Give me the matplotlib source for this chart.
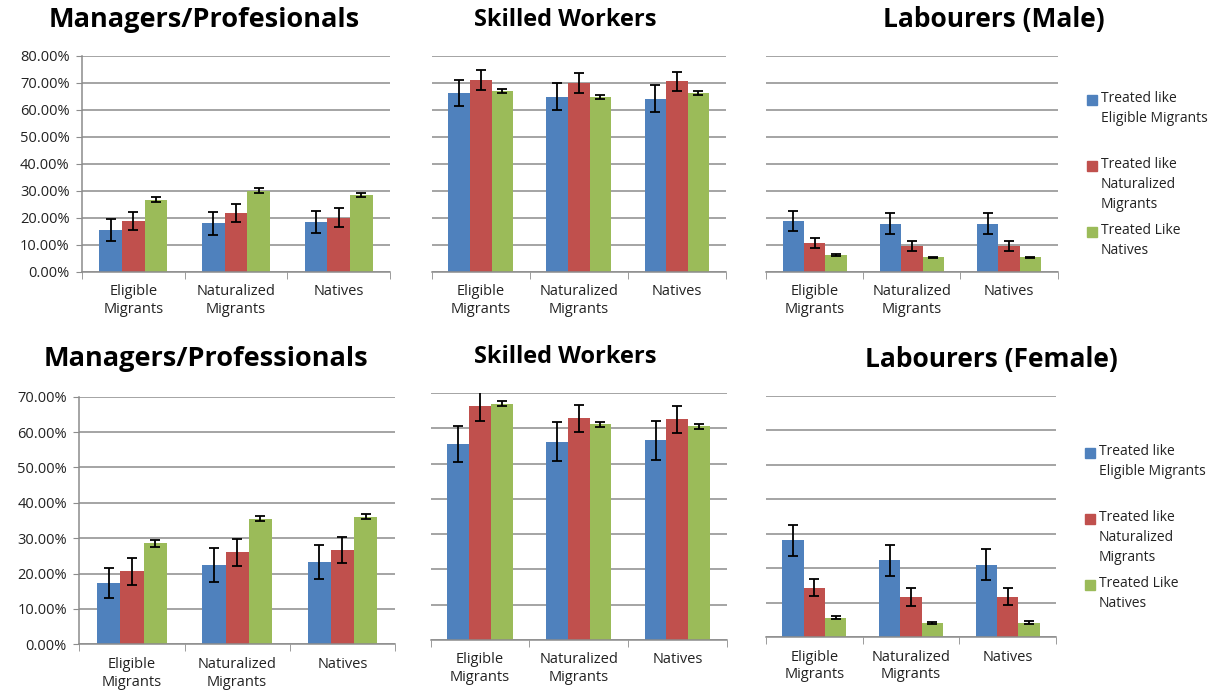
import matplotlib
matplotlib.use("Agg")
import matplotlib.pyplot as plt
from matplotlib.patches import Rectangle
import numpy as np

plt.rcParams['font.family'] = ['Open Sans', 'DejaVu Sans']

categories = ["Eligible\nMigrants", "Naturalized\nMigrants", "Natives"]
series = ["Treated like\nEligible Migrants", "Treated like\nNaturalized\nMigrants",
          "Treated Like\nNatives"]
colors = ["#4F81BD", "#C0504D", "#9BBB59"]

# values in %, one row per series (eligible-like, naturalized-like, natives-like)
mgr_top = [[15.4, 17.9, 18.4], [18.8, 21.6, 20.0], [26.7, 30.0, 28.4]]
mgr_top_err = [[4.0, 4.3, 4.2], [3.3, 3.3, 3.4], [0.9, 0.8, 0.8]]
sk_top = [[66.1, 64.8, 64.0], [71.0, 70.0, 70.5], [67.0, 64.8, 66.2]]
sk_top_err = [[4.8, 5.0, 5.0], [3.8, 3.7, 3.6], [0.8, 0.8, 0.8]]
lab_male = [[18.9, 17.7, 17.7], [10.7, 9.5, 9.5], [6.2, 5.3, 5.3]]
lab_male_err = [[3.7, 3.9, 3.9], [1.8, 1.8, 2.0], [0.4, 0.3, 0.3]]

mgr_bot = [[17.3, 22.3, 23.3], [20.6, 26.0, 26.6], [28.6, 35.5, 36.1]]
mgr_bot_err = [[4.3, 4.8, 4.9], [3.9, 3.9, 3.7], [1.0, 0.7, 0.7]]
sk_bot = [[55.6, 56.2, 56.6], [66.2, 62.8, 62.5], [67.0, 61.1, 60.6]]
sk_bot_err = [[5.1, 5.5, 5.5], [4.1, 3.9, 3.8], [0.8, 0.8, 0.7]]
lab_female = [[28.0, 22.2, 21.0], [14.3, 11.6, 11.7], [5.6, 4.1, 4.2]]
lab_female_err = [[4.6, 4.6, 4.6], [2.5, 2.5, 2.5], [0.4, 0.3, 0.4]]

fig = plt.figure(figsize=(12.26, 6.93), dpi=100)


def panel(rect, vals, errs, ymax, show_y):
    ax = fig.add_axes(rect)
    x = np.arange(len(categories))
    w = 0.22
    for i in range(3):
        ax.bar(x + (i - 1) * w, vals[i], w, color=colors[i], zorder=2)
        ax.errorbar(x + (i - 1) * w, vals[i], yerr=errs[i], fmt='none', ecolor='black',
                    elinewidth=1.3, capsize=3.5, capthick=1.3, zorder=3)
    ax.set_xlim(-0.5, 2.5)
    ax.set_ylim(0, ymax)
    ax.set_yticks(np.arange(0, ymax + 1, 10))
    ax.yaxis.grid(True, color='#8c8c8c', linewidth=1.1, zorder=0)
    ax.set_axisbelow(True)
    ax.set_xticks(x)
    ax.set_xticklabels(categories, fontsize=10.5, color='#222222', linespacing=1.25)
    ax.set_xticks([-0.5, 0.5, 1.5, 2.5], minor=True)
    ax.tick_params(axis='x', which='major', length=0, pad=9)
    ax.tick_params(axis='x', which='minor', length=5, color='#8c8c8c', direction='out')
    for s in ['top', 'right']:
        ax.spines[s].set_visible(False)
    ax.spines['bottom'].set_color('#8c8c8c')
    ax.spines['bottom'].set_linewidth(1.1)
    if show_y:
        ax.spines['left'].set_color('#8c8c8c')
        ax.spines['left'].set_linewidth(1.1)
        ax.set_yticklabels(["%.2f%%" % v for v in ax.get_yticks()], fontsize=10.5,
                           color='#222222')
        ax.tick_params(axis='y', length=4, color='#8c8c8c', pad=5)
    else:
        ax.spines['left'].set_visible(False)
        ax.tick_params(axis='y', length=0, labelleft=False)
    return ax


panel([0.0669, 0.6080, 0.2512, 0.3117], mgr_top, mgr_top_err, 80, True)
panel([0.3521, 0.6080, 0.2400, 0.3117], sk_top, sk_top_err, 80, False)
panel([0.6248, 0.6080, 0.2379, 0.3117], lab_male, lab_male_err, 80, False)
panel([0.0647, 0.0703, 0.2575, 0.3573], mgr_bot, mgr_bot_err, 70, True)
panel([0.3513, 0.0765, 0.2414, 0.3564], sk_bot, sk_bot_err, 70, False)
panel([0.6248, 0.0808, 0.2365, 0.3482], lab_female, lab_female_err, 70, False)

H = 693.0
W = 1226.0
titles = [("Managers/Profesionals", 204, 20, 19.5), ("Skilled Workers", 565, 20, 17),
          ("Labourers (Male)", 994, 20, 19), ("Managers/Professionals", 206, 359, 19.5),
          ("Skilled Workers", 565, 357, 17), ("Labourers (Female)", 991, 359, 19)]
for t, tx, ty, fs in titles:
    fig.text(tx / W, 1 - ty / H, t, ha='center', va='center', fontsize=fs,
             fontweight='bold', color='black')

# legends
for lx, ly in [(1087, 100), (1085, 453)]:
    for i, (lab, c) in enumerate(zip(series, colors)):
        y0 = ly + i * 66
        fig.patches.append(Rectangle((lx / W, 1 - (y0 + 5) / H), 10 / W, 10 / H,
                                     transform=fig.transFigure, color=c))
        fig.text((lx + 14) / W, 1 - (y0 - 9) / H, lab, ha='left', va='top',
                 fontsize=10, color='#222222', linespacing=1.45)

fig.savefig("out.png", dpi=100)
